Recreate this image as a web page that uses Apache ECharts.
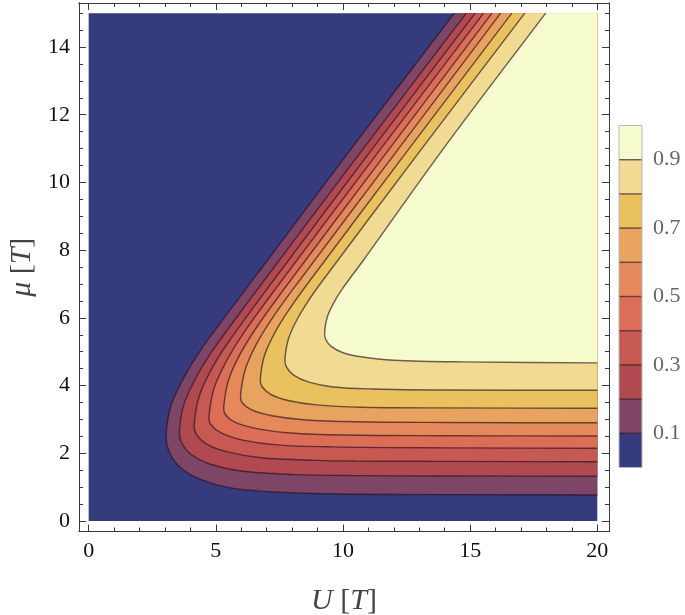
<!DOCTYPE html>
<html>
<head>
<meta charset="utf-8">
<script src="https://cdn.jsdelivr.net/npm/echarts@6/dist/echarts.min.js"></script>
<style>
  html, body { margin: 0; padding: 0; background: #fff; }
  #chart { width: 685px; height: 615px; }
</style>
</head>
<body>
<div id="chart"></div>
<script>
// contour levels and the colour of each band (band 0 is below 0.1)
const levels = [0.1, 0.2, 0.3, 0.4, 0.5, 0.6, 0.7, 0.8, 0.9]
const bandColors = ['#353b7d', '#7f4566', '#b04a50', '#c65a52', '#dc6d57', '#e6895a',
  '#e8a35e', '#e9c15f', '#f1da92', '#f6fbcd']

// contour lines, [U, mu]
// each one runs from the right edge (U = 20) round the nose up to the top edge (mu = 15)
const c01 = [[20, 0.77], [14, 0.78], [10.5, 0.79], [7.75, 0.84], [5.63, 0.97], [4.34, 1.25], [3.51, 1.65],
  [3.12, 2.14], [3.05, 2.6], [3.24, 3.41], [3.71, 4.19], [4.35, 4.99], [5.33, 6.0], [7.04, 7.71], [10.63, 11.3], [14.38, 15]]
const c02 = [[20, 1.32], [14, 1.33], [10.5, 1.34], [8.15, 1.37], [6.08, 1.47], [4.82, 1.67], [4.02, 1.97],
  [3.64, 2.34], [3.57, 2.68], [3.75, 3.46], [4.22, 4.23], [4.84, 5.0], [6.3, 6.5], [10.8, 11.0], [14.85, 15]]
const c03 = [[20, 1.75], [14, 1.76], [10.5, 1.77], [8.94, 1.79], [6.77, 1.87], [5.46, 2.04], [4.62, 2.28],
  [4.22, 2.58], [4.15, 2.85], [4.34, 3.67], [4.82, 4.47], [5.49, 5.28], [7.16, 7.0], [11.16, 11.0], [15.2, 15]]
const c04 = [[20, 2.15], [14, 2.16], [9.6, 2.19], [7.4, 2.25], [6.06, 2.39], [5.21, 2.6], [4.8, 2.85],
  [4.73, 3.08], [4.93, 3.92], [5.42, 4.73], [6.09, 5.55], [7.49, 7.0], [11.49, 11.0], [15.53, 15]]
const c05 = [[20, 2.51], [14, 2.52], [10.06, 2.54], [7.91, 2.6], [6.61, 2.73], [5.77, 2.91], [5.38, 3.14],
  [5.31, 3.35], [5.5, 4.16], [5.97, 4.95], [6.64, 5.76], [7.83, 7.0], [11.83, 11.0], [15.86, 15]]
const c06 = [[20, 2.9], [14, 2.91], [10.51, 2.93], [8.45, 2.99], [7.21, 3.11], [6.41, 3.28], [6.03, 3.5],
  [5.97, 3.7], [6.16, 4.48], [6.6, 5.23], [7.23, 6.0], [8.19, 7.0], [12.19, 11.0], [16.2, 15]]
const c07 = [[20, 3.33], [14, 3.34], [10.74, 3.36], [8.94, 3.43], [7.84, 3.56], [7.14, 3.75], [6.81, 3.98],
  [6.75, 4.2], [6.91, 4.88], [7.31, 5.55], [7.86, 6.22], [8.6, 7.0], [12.6, 11.0], [16.64, 15]]
const c08 = [[20, 3.86], [14, 3.87], [11.16, 3.9], [9.61, 3.96], [8.66, 4.1], [8.06, 4.31], [7.77, 4.56],
  [7.72, 4.8], [7.86, 5.39], [8.2, 5.96], [8.68, 6.55], [9.1, 7.0], [13.1, 11.0], [17.15, 15]]
const c09 = [[20, 4.67], [14.7, 4.7], [12, 4.75], [10.7, 4.85], [10.0, 4.97], [9.55, 5.15], [9.32, 5.37],
  [9.28, 5.6], [9.38, 6.02], [9.62, 6.42], [9.96, 6.84], [10.81, 7.71], [13.95, 11.0], [17.97, 15]]
const contours = [c01, c02, c03, c04, c05, c06, c07, c08, c09]

// ticks
const xTicks = [0, 5, 10, 15, 20]
const xMinor = [1, 2, 3, 4, 6, 7, 8, 9, 11, 12, 13, 14, 16, 17, 18, 19]
const yTicks = [0, 2, 4, 6, 8, 10, 12, 14]
const yMinor = [0.5, 1, 1.5, 2.5, 3, 3.5, 4.5, 5, 5.5, 6.5, 7, 7.5, 8.5, 9, 9.5, 10.5, 11, 11.5,
  12.5, 13, 13.5, 14.5, 15]
const barTicks = [0.1, 0.3, 0.5, 0.7, 0.9]

const serif = '"Liberation Serif", "DejaVu Serif", serif'
const frameColor = '#3a3a3a'
const lineColor = 'rgba(35, 15, 30, 0.65)'

// smooth path through pixel points (bezier, control points along neighbour direction)
function ctrl(prev, p, next, dir) {
  const d0 = Math.hypot(p[0] - prev[0], p[1] - prev[1])
  const d1 = Math.hypot(next[0] - p[0], next[1] - p[1])
  const s = 0.35 * (dir > 0 ? d1 : d0) / ((d0 + d1) || 1)
  return [p[0] + dir * s * (next[0] - prev[0]), p[1] + dir * s * (next[1] - prev[1])]
}

function smoothPath(pts) {
  let d = 'M' + pts[0][0] + ' ' + pts[0][1]
  for (let i = 0; i < pts.length - 1; i++) {
    const p0 = pts[i - 1] || pts[i]
    const p1 = pts[i]
    const p2 = pts[i + 1]
    const p3 = pts[i + 2] || pts[i + 1]
    const a = ctrl(p0, p1, p2, 1)
    const b = ctrl(p1, p2, p3, -1)
    d += ' C' + a[0] + ' ' + a[1] + ' ' + b[0] + ' ' + b[1] + ' ' + p2[0] + ' ' + p2[1]
  }
  return d
}

function renderFill(params, api) {
  const i = params.dataIndex
  if (i === 0) {
    const a = api.coord([0, 15])
    const b = api.coord([20, 0])
    return {
      type: 'rect', silent: true,
      shape: {x: a[0], y: a[1], width: b[0] - a[0], height: b[1] - a[1]},
      style: {fill: bandColors[0]}
    }
  }
  const pts = contours[i - 1].map(p => api.coord(p))
  const corner = api.coord([20, 15])
  return {
    type: 'path', silent: true,
    shape: {pathData: smoothPath(pts) + ' L' + corner[0] + ' ' + corner[1] + ' Z'},
    style: {fill: bandColors[i]}
  }
}

function renderLine(params, api) {
  const pts = contours[params.dataIndex].map(p => api.coord(p))
  return {
    type: 'path', silent: true,
    shape: {pathData: smoothPath(pts)},
    style: {fill: null, stroke: lineColor, lineWidth: 1.4}
  }
}

const edges = [0].concat(levels, [1])

function renderBar(params, api) {
  const i = params.dataIndex
  const a = api.coord([0, edges[i + 1]])
  const b = api.coord([1, edges[i]])
  const children = [{
    type: 'rect',
    shape: {x: a[0], y: a[1], width: b[0] - a[0], height: b[1] - a[1]},
    style: {fill: bandColors[i]}
  }]
  if (i > 0) {
    children.push({
      type: 'line',
      shape: {x1: a[0], y1: b[1], x2: b[0], y2: b[1]},
      style: {stroke: lineColor, lineWidth: 1.4}
    })
  }
  return {type: 'group', silent: true, children: children}
}

function renderBarBorder(params, api) {
  const a = api.coord([0, 1])
  const b = api.coord([1, 0])
  return {
    type: 'rect', silent: true,
    shape: {x: a[0], y: a[1], width: b[0] - a[0], height: b[1] - a[1]},
    style: {fill: null, stroke: '#b8b8b8', lineWidth: 1}
  }
}

function frameAxis(pos, min, max, ticks, len, labels) {
  return {
    type: 'value', gridIndex: 0, position: pos, min: min, max: max,
    axisLine: {show: true, onZero: false, lineStyle: {color: frameColor, width: 1}},
    axisTick: {show: true, inside: true, length: len, customValues: ticks,
      lineStyle: {color: frameColor, width: 1}},
    axisLabel: {show: labels, customValues: ticks, margin: 9,
      fontFamily: serif, fontSize: 22, color: '#111'},
    splitLine: {show: false}
  }
}

const nameStyle = {fontFamily: serif, fontSize: 30, color: '#444',
  rich: {i: {fontFamily: serif, fontSize: 30, fontStyle: 'italic', color: '#444'}}}

const xMain = frameAxis('bottom', -0.38, 20.46, xTicks, 7, true)
xMain.name = '{i|U} [{i|T}]'
xMain.nameLocation = 'middle'
xMain.nameGap = 55
xMain.nameTextStyle = nameStyle

const yMain = frameAxis('left', -0.31, 15.3, yTicks, 7, true)
yMain.name = '{i|μ} [{i|T}]'
yMain.nameLocation = 'middle'
yMain.nameGap = 28
yMain.nameTextStyle = nameStyle

const option = {
  animation: false,
  backgroundColor: '#fff',
  grid: [
    {left: 79, top: 3, width: 530, height: 528.5, outerBoundsMode: 'none'},
    {left: 619, top: 125.5, width: 23, height: 342, outerBoundsMode: 'none'}
  ],
  xAxis: [
    xMain,
    frameAxis('bottom', -0.38, 20.46, xMinor, 4, false),
    frameAxis('top', -0.38, 20.46, xTicks, 7, false),
    frameAxis('top', -0.38, 20.46, xMinor, 4, false),
    {type: 'value', gridIndex: 1, min: 0, max: 1, show: false}
  ],
  yAxis: [
    yMain,
    frameAxis('left', -0.31, 15.3, yMinor, 4, false),
    frameAxis('right', -0.31, 15.3, yTicks, 7, false),
    frameAxis('right', -0.31, 15.3, yMinor, 4, false),
    {
      type: 'value', gridIndex: 1, position: 'right', min: 0, max: 1,
      axisLine: {show: false},
      axisTick: {show: true, inside: false, length: 6, customValues: barTicks,
        lineStyle: {color: '#777'}},
      axisLabel: {customValues: barTicks, margin: 11, fontFamily: serif, fontSize: 22, color: '#666'},
      splitLine: {show: false}
    }
  ],
  series: [
    {
      name: 'bands', type: 'custom', xAxisIndex: 0, yAxisIndex: 0,
      data: bandColors.map((c, i) => i), renderItem: renderFill
    },
    {
      name: 'contours', type: 'custom', xAxisIndex: 0, yAxisIndex: 0,
      data: contours.map((c, i) => i), renderItem: renderLine
    },
    {
      name: 'colorbar', type: 'custom', xAxisIndex: 4, yAxisIndex: 4,
      data: bandColors.map((c, i) => i), renderItem: renderBar
    },
    {
      name: 'colorbar border', type: 'custom', xAxisIndex: 4, yAxisIndex: 4,
      data: [0], renderItem: renderBarBorder
    }
  ]
}

const myChart = echarts.init(document.getElementById('chart'))
myChart.setOption(option)
</script>
</body>
</html>
